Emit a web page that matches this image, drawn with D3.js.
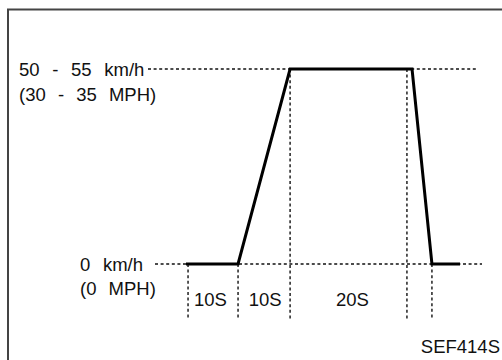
<!DOCTYPE html>
<html><head><meta charset="utf-8">
<script src="https://cdn.jsdelivr.net/npm/d3@7"></script>
<style>
html,body{margin:0;padding:0;background:#fff;}
svg{display:block;}
text{font-family:"Liberation Sans",Arial,Helvetica,sans-serif;font-size:18.5px;fill:#111;white-space:pre;}
</style></head>
<body>
<svg id="c" width="502" height="360"></svg>
<script>
// schematic time (s) and speed (km/h) of the drive pattern
const profileTime  = [-0.4, 9.8, 20, 43.9, 47.8, 53.3];
const profileSpeed = [0, 0, 52.5, 52.5, 0, 0];
// guide verticals: time, top speed level
const guideTime  = [0, 9.8, 20, 42.9, 47.8];
const guideTop   = [0, 0, 52.5, 52.5, 0];
// speed levels with labels
const levelSpeed = [52.5, 0];
const levelLine1 = ["50 - 55 km/h", "0 km/h"];
const levelLine2 = ["(30 - 35 MPH)", "(0 MPH)"];
// duration labels
const durLabels = ["10S", "10S", "20S"];
const durCenter = [4.4, 15.1, 32.2];
const figCode = "SEF414S";

const svg = d3.select("#c");
const x = d3.scaleLinear().domain([-0.4, 53.3]).range([186, 460]);
const y = d3.scaleLinear().domain([0, 52.5]).range([264, 69]);

// frame
svg.append("path").attr("d", "M8,360V9.5H502").attr("fill", "none")
  .attr("stroke", "#444").attr("stroke-width", 2);

// horizontal dotted reference lines
const hStart = [148, 155], hEnd = [478, 482];
levelSpeed.forEach((v, i) => {
  svg.append("line").attr("x1", hStart[i]).attr("x2", hEnd[i])
    .attr("y1", y(v)).attr("y2", y(v))
    .attr("stroke", "#111").attr("stroke-width", 1.4).attr("stroke-dasharray", "3,2.6");
});

// vertical dotted guides
guideTime.forEach((t, i) => {
  svg.append("line").attr("x1", x(t)).attr("x2", x(t))
    .attr("y1", y(guideTop[i])).attr("y2", 319)
    .attr("stroke", "#111").attr("stroke-width", 1.4).attr("stroke-dasharray", "3,2.6");
});

// speed profile
const pts = profileTime.map((t, i) => [x(t), y(profileSpeed[i])]);
svg.append("path").attr("d", d3.line()(pts)).attr("fill", "none")
  .attr("stroke", "#000").attr("stroke-width", 3).attr("stroke-linejoin", "miter");

// level labels
const lx = [19, 80];
const l2dy = [32, 31];
levelSpeed.forEach((v, i) => {
  svg.append("text").attr("x", lx[i]).attr("y", y(v) + 7).attr("word-spacing", "7.5px").text(levelLine1[i]);
  svg.append("text").attr("x", lx[i]).attr("y", y(v) + l2dy[i]).attr("word-spacing", "7px").text(levelLine2[i]);
});

// duration labels
durLabels.forEach((s, i) => {
  svg.append("text").attr("x", x(durCenter[i])).attr("y", 306).attr("text-anchor", "middle").text(s);
});

svg.append("text").attr("x", 500).attr("y", 353).attr("text-anchor", "end").text(figCode);
</script>
</body></html>
